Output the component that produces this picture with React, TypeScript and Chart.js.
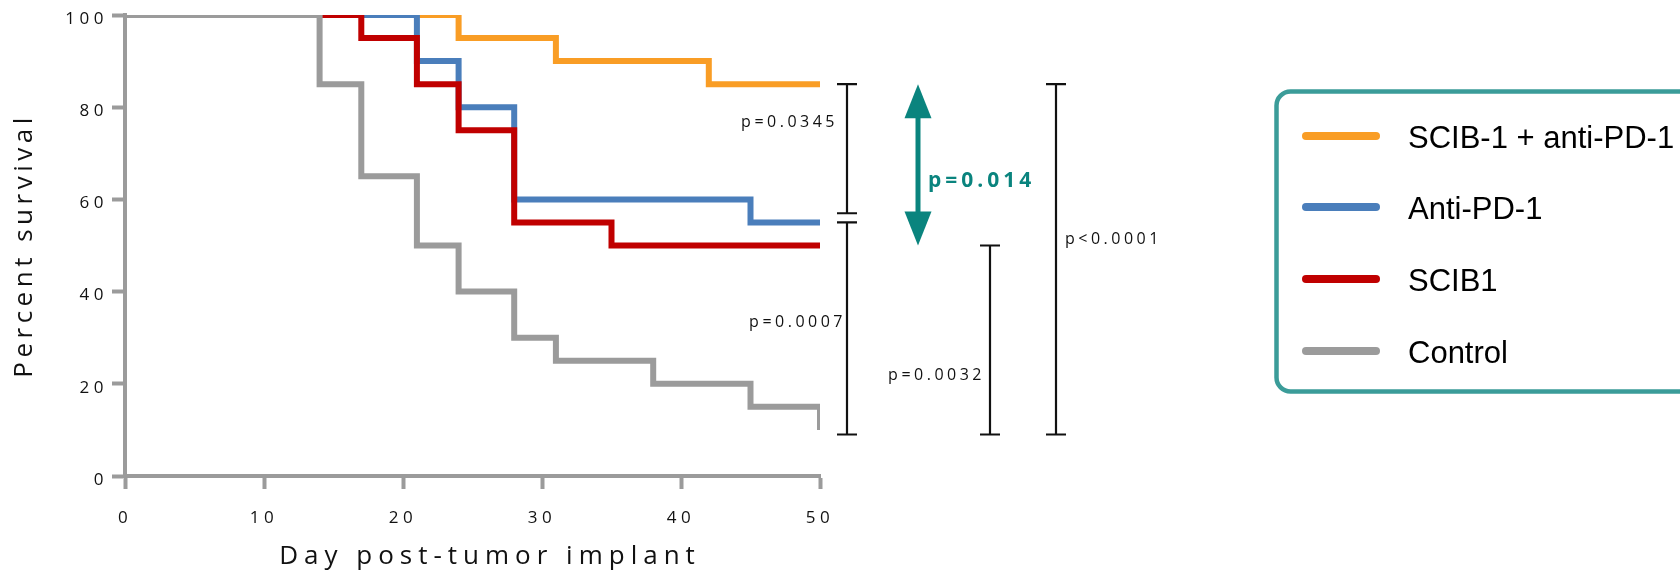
import React, { useEffect, useRef } from 'react';
import { Chart, registerables } from 'chart.js';

Chart.register(...registerables);

// ---- data ----
const xTickValues = [0, 10, 20, 30, 40, 50];
const yTickValues = [0, 20, 40, 60, 80, 100];

const seriesNames = ['SCIB-1 + anti-PD-1', 'Anti-PD-1', 'SCIB1', 'Control'];
const seriesColors = ['#F99D25', '#4A7EBB', '#C00000', '#9B9B9B'];

const comboDays = [0, 24, 31, 42, 50];
const comboSurvival = [100, 95, 90, 85, 85];
const antiPd1Days = [0, 21, 24, 28, 45, 50];
const antiPd1Survival = [100, 90, 80, 60, 55, 55];
const scib1Days = [0, 17, 21, 24, 28, 35, 50];
const scib1Survival = [100, 95, 85, 75, 55, 50, 50];
const controlDays = [0, 14, 17, 21, 24, 28, 31, 38, 45, 50];
const controlSurvival = [100, 85, 65, 50, 40, 30, 25, 20, 15, 10];

// comparison brackets (survival levels) and their p-values
const pLabels = ['p=0.0345', 'p=0.0007', 'p=0.0032', 'p<0.0001'];
const bracketTop = [85, 55, 50, 85];
const bracketBottom = [57, 9, 9, 9];
const highlightLabel = 'p=0.014';
const highlightFrom = 85;
const highlightTo = 50;

const xTitle = 'Day post-tumor implant';
const yTitle = 'Percent survival';

// ---- layout (pixels) ----
const BRACKET_X = [847, 847, 990, 1056];
const LABEL_POS = [
  { x: 838, y: 122, align: 'right' },
  { x: 846, y: 322, align: 'right' },
  { x: 985, y: 375, align: 'right' },
  { x: 1065, y: 239, align: 'left' },
];
const ARROW_X = 918;
const TEAL = '#0a847e';

function toPoints(xs: number[], ys: number[]) {
  return xs.map((x, i) => ({ x, y: ys[i] }));
}

const annotPlugin = {
  id: 'annot',
  beforeDraw(chart: any) {
    chart.ctx.letterSpacing = '4.5px';
  },
  afterDraw(chart: any) {
    const ctx = chart.ctx;
    const ys = chart.scales.y;
    ctx.save();

    // x axis title
    ctx.fillStyle = '#111';
    ctx.font = '26px "Open Sans"';
    ctx.letterSpacing = '6px';
    ctx.textAlign = 'center';
    ctx.textBaseline = 'middle';
    ctx.fillText(xTitle, 490, 557);

    ctx.letterSpacing = '0px';
    // brackets
    ctx.strokeStyle = '#111';
    ctx.lineWidth = 2.2;
    ctx.lineCap = 'butt';
    bracketTop.forEach((t, i) => {
      const x = BRACKET_X[i];
      const y1 = ys.getPixelForValue(t);
      const y2 = ys.getPixelForValue(bracketBottom[i]);
      ctx.beginPath();
      ctx.moveTo(x, y1);
      ctx.lineTo(x, y2);
      ctx.moveTo(x - 10, y1);
      ctx.lineTo(x + 10, y1);
      ctx.moveTo(x - 10, y2);
      ctx.lineTo(x + 10, y2);
      ctx.stroke();
    });

    // p-value labels
    ctx.fillStyle = '#111';
    ctx.font = '16px "Open Sans"';
    ctx.letterSpacing = '3.5px';
    ctx.textBaseline = 'middle';
    pLabels.forEach((lab, i) => {
      const p = LABEL_POS[i];
      ctx.textAlign = p.align;
      ctx.fillText(lab, p.x, p.y);
    });

    // highlight double arrow
    const top = ys.getPixelForValue(highlightFrom);
    const bot = ys.getPixelForValue(highlightTo);
    const headH = 34;
    const headW = 13.5;
    ctx.fillStyle = TEAL;
    ctx.strokeStyle = TEAL;
    ctx.lineWidth = 5;
    ctx.beginPath();
    ctx.moveTo(ARROW_X, top + headH - 2);
    ctx.lineTo(ARROW_X, bot - headH + 2);
    ctx.stroke();
    ctx.beginPath();
    ctx.moveTo(ARROW_X, top);
    ctx.lineTo(ARROW_X + headW, top + headH);
    ctx.lineTo(ARROW_X - headW, top + headH);
    ctx.closePath();
    ctx.fill();
    ctx.beginPath();
    ctx.moveTo(ARROW_X, bot);
    ctx.lineTo(ARROW_X + headW, bot - headH);
    ctx.lineTo(ARROW_X - headW, bot - headH);
    ctx.closePath();
    ctx.fill();
    ctx.font = 'bold 21px "Open Sans"';
    ctx.letterSpacing = '4px';
    ctx.textAlign = 'left';
    ctx.fillText(highlightLabel, 928, 181);

    // legend box
    ctx.letterSpacing = '0px';
    ctx.strokeStyle = '#3b9c99';
    ctx.lineWidth = 4.5;
    ctx.beginPath();
    ctx.roundRect(1276.5, 91.5, 500, 300, 14);
    ctx.stroke();
    const rows = [136, 207, 279, 351];
    seriesNames.forEach((name, i) => {
      ctx.strokeStyle = seriesColors[i];
      ctx.lineWidth = 8;
      ctx.lineCap = 'round';
      ctx.beginPath();
      ctx.moveTo(1306, rows[i]);
      ctx.lineTo(1376, rows[i]);
      ctx.stroke();
      ctx.fillStyle = '#000';
      ctx.font = '31px "Liberation Sans"';
      ctx.textAlign = 'left';
      ctx.textBaseline = 'alphabetic';
      ctx.fillText(name, 1408, rows[i] + 11.5);
    });
    ctx.restore();
  },
};

export default function App() {
  const ref = useRef<HTMLCanvasElement | null>(null);

  useEffect(() => {
    document.body.style.margin = '0';
    if (!ref.current) return;
    const axisColor = '#9B9B9B';
    const tickFont = { family: 'Open Sans', size: 17 };
    const titleFont = { family: 'Open Sans', size: 26 };
    const mk = (i: number, xs: number[], vs: number[]) => ({
      label: seriesNames[i],
      data: toPoints(xs, vs),
      borderColor: seriesColors[i],
      backgroundColor: seriesColors[i],
      borderWidth: 6,
      stepped: true,
      pointRadius: 0,
      borderJoinStyle: 'miter',
      borderCapStyle: 'butt',
      fill: false,
    });
    const chart = new Chart(ref.current, {
      type: 'line',
      data: {
        datasets: [
          mk(3, controlDays, controlSurvival),
          mk(2, scib1Days, scib1Survival),
          mk(1, antiPd1Days, antiPd1Survival),
          mk(0, comboDays, comboSurvival),
        ],
      },
      options: {
        animation: false,
        responsive: true,
        maintainAspectRatio: false,
        layout: { padding: { left: 0, top: 15, right: 860, bottom: 0 } },
        plugins: { legend: { display: false }, tooltip: { enabled: false } },
        scales: {
          x: {
            type: 'linear',
            min: 0,
            max: 50,
            afterFit: (s: any) => { s.height = 96; },
            afterBuildTicks: (s: any) => { s.ticks = xTickValues.map((v) => ({ value: v })); },
            ticks: { stepSize: 10, padding: 19, color: '#111', font: tickFont, maxRotation: 0 },
            grid: { drawOnChartArea: false, drawTicks: true, tickLength: 13, tickWidth: 4, tickColor: axisColor },
            border: { display: true, color: axisColor, width: 4 },
            title: { display: false, text: xTitle },
          },
          y: {
            type: 'linear',
            min: 0,
            max: 100,
            afterFit: (s: any) => { s.width = 125; },
            afterBuildTicks: (s: any) => { s.ticks = yTickValues.map((v) => ({ value: v })); },
            ticks: { stepSize: 20, padding: 4, labelOffset: 4, color: '#111', font: tickFont },
            grid: { drawOnChartArea: false, drawTicks: true, tickLength: 13, tickWidth: 4, tickColor: axisColor },
            border: { display: true, color: axisColor, width: 4 },
            title: { display: true, text: yTitle, color: '#111', font: titleFont, padding: { top: 9, bottom: 0 } },
          },
        },
      },
      plugins: [annotPlugin],
    } as any);
    return () => chart.destroy();
  }, []);

  return (
    <div style={{ position: 'relative', width: '1680px', height: '572px' }}>
      <canvas ref={ref} />
    </div>
  );
}
